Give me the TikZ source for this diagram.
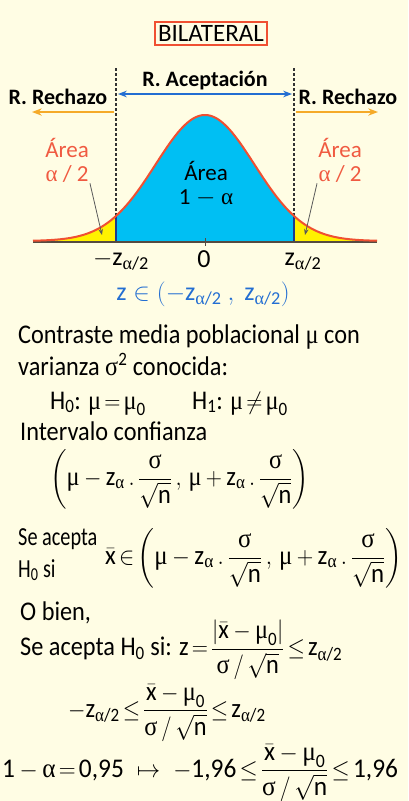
\documentclass[tikz,border=0pt]{standalone}
\usepackage{amsmath}
\usepackage{fontspec}
\setmainfont{Carlito}
\newfontfamily\grk{Liberation Serif}
\usetikzlibrary{arrows.meta}
\definecolor{crema}{RGB}{255,253,228}
\definecolor{rojo}{RGB}{240,80,50}
\definecolor{rojotxt}{RGB}{240,90,65}
\definecolor{cian}{RGB}{0,191,243}
\definecolor{amarillo}{RGB}{255,242,0}
\definecolor{marino}{RGB}{30,60,140}
\definecolor{azul}{RGB}{35,110,210}
\definecolor{naranja}{RGB}{245,170,40}
\definecolor{eje}{RGB}{85,75,65}
\newcommand{\tn}[1]{\text{#1}}
\newcommand{\gmu}{\text{\grk μ}}
\newcommand{\gsig}{\text{\grk σ}}
\newcommand{\galf}{\text{\grk α}}
\newcommand{\zz}{\text{z}}
\newcommand{\zah}{\zz_{\text{{\grk α}/2}}}
\newcommand{\mcero}{\gmu_{\tn{0}}}
\newcommand{\xb}{\bar{\text{x}}}
\newcommand{\sn}{\dfrac{\gsig}{\sqrt{\tn{n}}}}
\newcommand{\nar}[1]{\scalebox{0.9}[1]{#1}}
\newcommand{\fm}[2][0.9]{\scalebox{#1}[1]{\thickmuskip=2.5mu\relax\medmuskip=3.5mu\relax #2}}

\begin{document}
\begin{tikzpicture}[x=1pt, y=-1pt,
  declare function={gy(\x)=241-126*exp(-0.5*((\x-205)/49.5)*((\x-205)/49.5));},
  lbl/.style={inner sep=0pt, font=\fontsize{26}{28}\selectfont},
  reg/.style={inner sep=0pt, font=\bfseries\fontsize{22}{24}\selectfont},
  area/.style={inner sep=1pt, align=center, font=\fontsize{23}{24}\selectfont},
  txt/.style={anchor=base west, inner sep=0pt, font=\fontsize{27}{30}\selectfont},
  frm/.style={anchor=west, inner sep=0pt, font=\fontsize{27}{30}\selectfont},
  lim/.style={gray!40!black, line width=1.5pt, dash pattern=on 3pt off 2pt},
  acc/.style={{Stealth}-{Stealth}, azul, line width=1.3pt},
  rech/.style={-{Stealth}, naranja, line width=1.5pt},
  ptr/.style={-{Stealth[length=6pt]}, gray!70!black, line width=0.8pt},
]
\path[fill=crema, use as bounding box] (0,0) rectangle (408,801);
\node[draw=rojo, line width=1.2pt, inner xsep=3pt, inner ysep=2pt, minimum height=23pt,
  font=\fontsize{25}{25}\selectfont] (titulo) at (211,33.5) {BILATERAL};

\coordinate (limI) at (116,68);
\coordinate (limIb) at (116,216);
\coordinate (limD) at (294,68);
\coordinate (limDb) at (294,216);
\draw[lim] (limI) -- (limIb);
\draw[lim] (limD) -- (limDb);

\fill[amarillo] plot[domain=33:116, samples=60] (\x,{gy(\x)}) -- (116,242) -- (33,242) -- cycle;
\fill[amarillo] plot[domain=294:377, samples=60] (\x,{gy(\x)}) -- (377,242) -- (294,242) -- cycle;
\fill[cian] plot[domain=116:294, samples=100] (\x,{gy(\x)}) -- (294,242) -- (116,242) -- cycle;
\draw[marino, line width=1.5pt] (116,{gy(116)}) -- (116,242) (294,{gy(294)}) -- (294,242);
\draw[eje, line width=2pt] (33,242) -- (377,242);
\draw[eje, line width=1pt] (205,238) -- (205,246);
\draw[rojo, line width=2pt] plot[domain=33:377, samples=160] (\x,{gy(\x)});

\node[reg] (acep) at (205,81) {R. Aceptación};
\node[reg] (rechI) at (58,97) {R. Rechazo};
\node[reg] (rechD) at (348,97) {R. Rechazo};
\coordinate (accI) at (118,94);
\coordinate (accD) at (292,94);
\draw[acc] (accI) -- (accD);
\coordinate (rI0) at (114,112);
\coordinate (rI1) at (32,112);
\coordinate (rD0) at (296,112);
\coordinate (rD1) at (378,112);
\draw[rech] (rI0) -- (rI1);
\draw[rech] (rD0) -- (rD1);

\node[area, text=rojotxt] (areaI) at (67,160) {Área\\{\grk α} / 2};
\node[area, text=rojotxt] (areaD) at (340,160) {Área\\{\grk α} / 2};
\node[area] (areaC) at (206,184) {Área\\$\tn{1}-\galf$};
\coordinate (colaI) at (102,235);
\coordinate (colaD) at (305,235);
\draw[ptr] (areaI.south east) -- (colaI);
\draw[ptr] (areaD.south west) -- (colaD);

\node[lbl, anchor=base] (zI) at (121,265) {$-\zah$};
\node[lbl, anchor=base] (cero) at (204,267) {0};
\node[lbl, anchor=base] (zD) at (303,265) {$\zah$};
\node[lbl, anchor=base, text=azul] (zcon) at (203,300) {$\zz\in(-\zah\ ,\ \zah)$};

\node[txt] (l1) at (18,343) {\nar{Contraste media poblacional {\grk μ} con}};
\node[txt] (l2) at (18,375) {\nar{varianza $\gsig^{\tn{2}}$ conocida:}};
\node[txt] (h0) at (50,409) {\fm{H$_{\tn{0}}$: $\gmu=\mcero$}};
\node[txt] (h1) at (192,409) {\fm{H$_{\tn{1}}$: $\gmu\neq\mcero$}};
\node[txt] (l3) at (20,440) {\nar{Intervalo confianza}};
\node[frm] (ic) at (50,479) {\fm{$\left(\gmu-\zz_{\galf}\,.\,\sn\,,\;\gmu+\zz_{\galf}\,.\,\sn\right)$}};
\node[txt, font=\fontsize{26}{28}\selectfont] (l4) at (18,545) {\scalebox{0.78}[1]{Se acepta}};
\node[txt, font=\fontsize{26}{28}\selectfont] (l5) at (18,577) {\scalebox{0.78}[1]{H$_{\tn{0}}$ si}};
\node[frm] (ic2) at (105,558) {\fm[0.92]{$\xb\in\left(\gmu-\zz_{\galf}\,.\,\sn\,,\;\gmu+\zz_{\galf}\,.\,\sn\right)$}};
\node[txt] (l6) at (20,620) {\nar{O bien,}};
\node[frm] (crit) at (20,650) {\fm{Se acepta H$_{\tn{0}}$ si: $\zz=\dfrac{\left|\xb-\mcero\right|}{\gsig\,/\,\sqrt{\tn{n}}}\le\zah$}};
\node[frm] (crit2) at (68,713) {\fm{$-\zah\le\dfrac{\xb-\mcero}{\gsig\,/\,\sqrt{\tn{n}}}\le\zah$}};
\node[frm] (ej) at (2,773) {\fm[0.94]{$\tn{1}-\galf=\tn{0,95}\;\;\;\mapsto\;\;\;-\tn{1,96}\le\dfrac{\xb-\mcero}{\gsig\,/\,\sqrt{\tn{n}}}\le\tn{1,96}$}};
\end{tikzpicture}
\end{document}
